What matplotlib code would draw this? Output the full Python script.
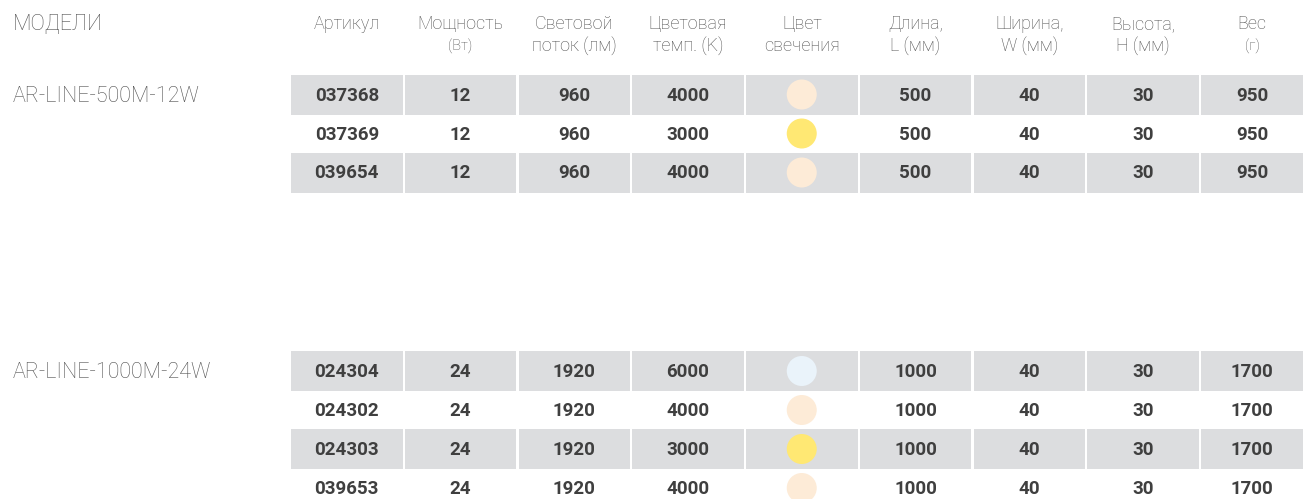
"""
Spec table for AR-LINE luminaires
"""
import matplotlib.pyplot as plt
from matplotlib.patches import Rectangle, Circle

# header texts (line 1, line 2)
headers_top = ['Артикул', 'Мощность', 'Световой', 'Цветовая', 'Цвет',
               'Длина,', 'Ширина,', 'Высота,', 'Вес']
headers_bottom = ['', '(Вт)', 'поток (лм)', 'темп. (K)', 'свечения',
                  'L (мм)', 'W (мм)', 'H (мм)', '(г)']

models = ['AR-LINE-500M-12W', 'AR-LINE-1000M-24W']

# rows per model: article, power, flux, temp, colour, L, W, H, weight
articles = [['037368', '037369', '039654'],
            ['024304', '024302', '024303', '039653']]
power = [[12, 12, 12], [24, 24, 24, 24]]
flux = [[960, 960, 960], [1920, 1920, 1920, 1920]]
temps = [[4000, 3000, 4000], [6000, 4000, 3000, 4000]]
length = [[500, 500, 500], [1000, 1000, 1000, 1000]]
width = [[40, 40, 40], [40, 40, 40, 40]]
height = [[30, 30, 30], [30, 30, 30, 30]]
weight = [[950, 950, 950], [1700, 1700, 1700, 1700]]

# light colour by temperature
temp_colors = {3000: '#ffe873', 4000: '#fdebd7', 6000: '#eaf3fa'}

W_PX, H_PX = 1303, 499
fig = plt.figure(figsize=(W_PX / 100, H_PX / 100), dpi=100)
ax = fig.add_axes([0, 0, 1, 1])
ax.set_xlim(0, W_PX)
ax.set_ylim(H_PX, 0)
ax.axis('off')

x0 = 291
pitch = 113.75
cell_w = 111.5
row_h = 39
cell_h = 40
col_centers = [x0 + i * pitch + cell_w / 2 for i in range(9)]
col_centers[-1] = 1252  # last column is cut by the page edge

head_kw = dict(color='#505050', ha='center', va='center',
               family='Roboto', fontweight='light')
val_kw = dict(color='#3f3f3f', ha='center', va='center',
              family='Roboto', fontweight='bold', fontsize=13.5)
model_kw = dict(color='#505050', ha='left', va='center',
                family='Roboto', fontweight='light', fontsize=15.5)

ax.text(13, 24, 'МОДЕЛИ', **model_kw)
for i, cx in enumerate(col_centers):
    ax.text(cx, 24, headers_top[i], fontsize=13, **head_kw)
    small = headers_bottom[i] in ('(Вт)', '(г)')
    ax.text(cx, 46, headers_bottom[i], fontsize=10.5 if small else 13,
            **head_kw)

table_tops = [94.5, 371]

for m, y_start in enumerate(table_tops):
    ax.text(13, y_start + 2, models[m], **model_kw)
    for r in range(len(articles[m])):
        y = y_start + r * row_h
        if r % 2 == 0:
            for i in range(9):
                ax.add_patch(Rectangle((x0 + i * pitch, y - cell_h / 2),
                                       cell_w, cell_h, color='#dcdddf', lw=0))
        vals = [articles[m][r], power[m][r], flux[m][r], temps[m][r], None,
                length[m][r], width[m][r], height[m][r], weight[m][r]]
        for i, v in enumerate(vals):
            if v is None:
                ax.add_patch(Circle((col_centers[i], y), 15,
                                    color=temp_colors[temps[m][r]], lw=0))
            else:
                ax.text(col_centers[i], y + 1, str(v), **val_kw)

fig.savefig('out.png', dpi=100)
